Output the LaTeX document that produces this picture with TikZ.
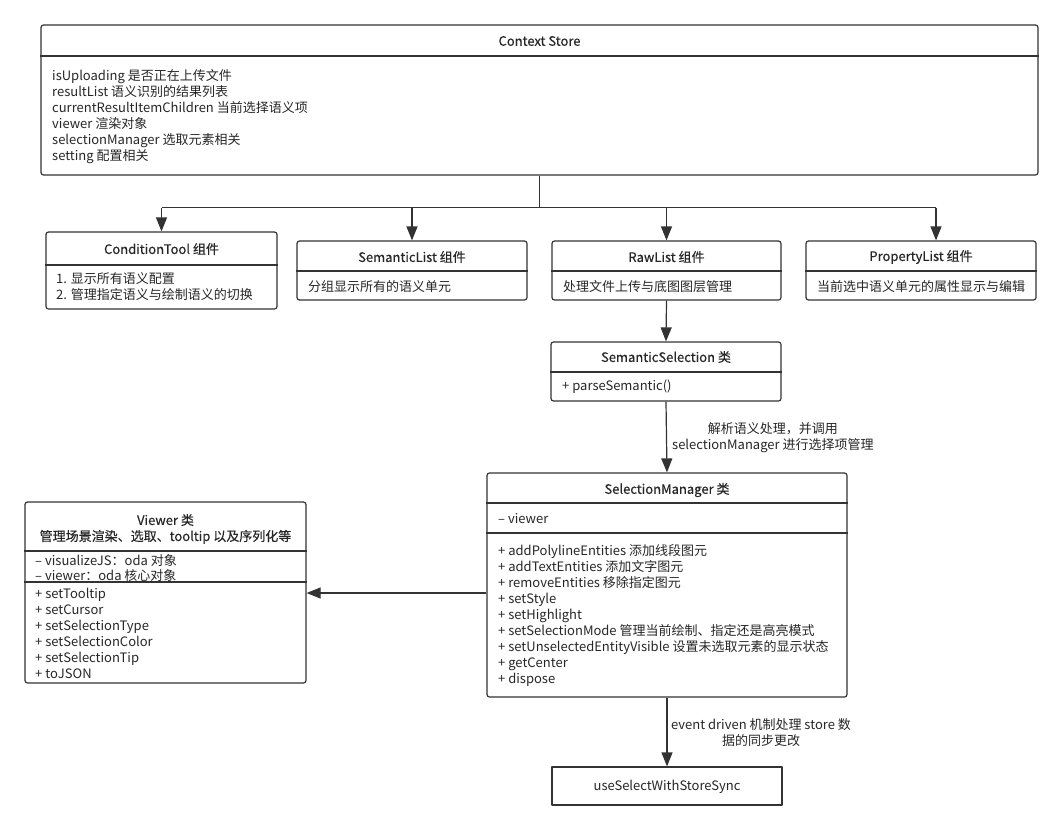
\documentclass[tikz,border=0pt]{standalone}
\usepackage{fontspec}
\setmainfont{Noto Sans CJK SC}
\newfontfamily\titlefont{Noto Sans CJK SC}[FakeBold=0.4]
\usetikzlibrary{arrows.meta}
\definecolor{linec}{HTML}{333333}
\definecolor{textc}{HTML}{262626}
\tikzset{
	umlbox/.style={draw=linec,line width=1.2pt,rounded corners=2.5pt,inner sep=0pt},
	plainbox/.style={draw=linec,line width=1.2pt,inner sep=0pt},
	sep/.style={draw=linec,line width=1.1pt},
	title/.style={font=\fontsize{13}{16}\selectfont\titlefont},
	txt/.style={anchor=west,align=left,inner sep=0pt},
	arr/.style={draw=linec,line width=1.2pt,-{Triangle[length=14pt,width=11pt]}}
}
\begin{document}
\begin{tikzpicture}[x=1pt,y=-1pt,line join=round,font=\fontsize{13}{16}\selectfont,text=textc]
	\useasboundingbox (0,0) rectangle (1061,830);
	% boxes
	\node[umlbox,minimum width=997pt,minimum height=150pt] (ctx) at (539.5,100) {};
	\node[umlbox,minimum width=231pt,minimum height=77pt] (cond) at (161.5,270.5) {};
	\node[umlbox,minimum width=230pt,minimum height=59pt] (sem) at (412,270.5) {};
	\node[umlbox,minimum width=229pt,minimum height=59pt] (raw) at (666.5,270.5) {};
	\node[umlbox,minimum width=230pt,minimum height=59pt] (prop) at (921,270.5) {};
	\node[umlbox,minimum width=230pt,minimum height=59pt] (semsel) at (666,371.5) {};
	\node[umlbox,minimum width=360pt,minimum height=224pt] (selmgr) at (667,585) {};
	\node[umlbox,minimum width=281pt,minimum height=181pt] (viewer) at (165.5,592.5) {};
	\node[plainbox,minimum width=230pt,minimum height=38pt] (sync) at (667,786) {};
	% compartments
	\draw[sep] (ctx.west |- 0,56) -- (ctx.east |- 0,56);
	\draw[sep] (cond.west |- 0,265) -- (cond.east |- 0,265);
	\draw[sep] (sem.west |- 0,271) -- (sem.east |- 0,271);
	\draw[sep] (raw.west |- 0,271) -- (raw.east |- 0,271);
	\draw[sep] (prop.west |- 0,271) -- (prop.east |- 0,271);
	\draw[sep] (semsel.west |- 0,372) -- (semsel.east |- 0,372);
	\draw[sep] (selmgr.west |- 0,503) -- (selmgr.east |- 0,503);
	\draw[sep] (selmgr.west |- 0,533) -- (selmgr.east |- 0,533);
	\draw[sep] (viewer.west |- 0,551) -- (viewer.east |- 0,551);
	\draw[sep] (viewer.west |- 0,582) -- (viewer.east |- 0,582);
	% titles
	\node[title] (ctxT) at (539.5,41) {Context Store};
	\node[title] (condT) at (161.5,249) {ConditionTool 组件};
	\node[title] (semT) at (412,257) {SemanticList 组件};
	\node[title] (rawT) at (666.5,257) {RawList 组件};
	\node[title] (propT) at (921,257) {PropertyList 组件};
	\node[title] (semselT) at (666,357) {SemanticSelection 类};
	\node[title] (selmgrT) at (667,490) {SelectionManager 类};
	\node[title,align=center,inner sep=0pt] (viewerT) at (165.5,529) {Viewer 类\\管理场景渲染、选取、tooltip 以及序列化等};
	\node (syncT) at (667,787) {useSelectWithStoreSync};
	% contents
	\node[txt] (ctxB) at (52,117) {isUploading 是否正在上传文件\\resultList 语义识别的结果列表\\currentResultItemChildren 当前选择语义项\\viewer 渲染对象\\selectionManager 选取元素相关\\setting 配置相关};
	\node[txt] (condB) at (56,287) {1. 显示所有语义配置\\2. 管理指定语义与绘制语义的切换};
	\node[txt] (semB) at (308,286.5) {分组显示所有的语义单元};
	\node[txt] (rawB) at (563,286.5) {处理文件上传与底图图层管理};
	\node[txt] (propB) at (817,286.5) {当前选中语义单元的属性显示与编辑};
	\node[txt] (semselB) at (562,386.5) {+ parseSemantic()};
	\node[txt] (selmgrA) at (498,519) {– viewer};
	\node[txt] (selmgrB) at (498,615.5) {+ addPolylineEntities 添加线段图元\\+ addTextEntities 添加文字图元\\+ removeEntities 移除指定图元\\+ setStyle\\+ setHighlight\\+ setSelectionMode 管理当前绘制、指定还是高亮模式\\+ setUnselectedEntityVisible 设置未选取元素的显示状态\\+ getCenter\\+ dispose};
	\node[txt,font=\fontsize{13}{15}\selectfont] (viewerA) at (35,568) {– visualizeJS：oda 对象\\– viewer：oda 核心对象};
	\node[txt] (viewerB) at (35,633) {+ setTooltip\\+ setCursor\\+ setSelectionType\\+ setSelectionColor\\+ setSelectionTip\\+ toJSON};
	% connectors
	\path (ctx.south) ++(0,32) coordinate (trunk);
	\draw[sep,line width=1.2pt] (ctx.south) -- (trunk);
	\draw[sep,line width=1.2pt] (trunk -| cond.north) -- (trunk -| 936,0);
	\draw[arr] (trunk -| cond.north) -- (cond.north);
	\draw[arr] (trunk -| sem.north) -- (sem.north);
	\draw[arr] (trunk -| raw.north) -- (raw.north);
	\draw[arr] (trunk -| 936,0) -- (prop.north -| 936,0);
	\draw[arr] (raw.south) -- (semsel.north);
	\draw[arr] (semsel.south) -- (selmgr.north);
	\draw[arr] (selmgr.west |- 0,593) -- (viewer.east |- 0,593);
	\draw[arr] (selmgr.south) -- (sync.north);
	\node[anchor=west,align=center,inner sep=0pt] (parseL) at (672,438) {解析语义处理，并调用\\selectionManager 进行选择项管理};
	\node[anchor=west,align=center,inner sep=0pt] (eventL) at (671,733) {event driven 机制处理 store 数\\据的同步更改};
\end{tikzpicture}
\end{document}
